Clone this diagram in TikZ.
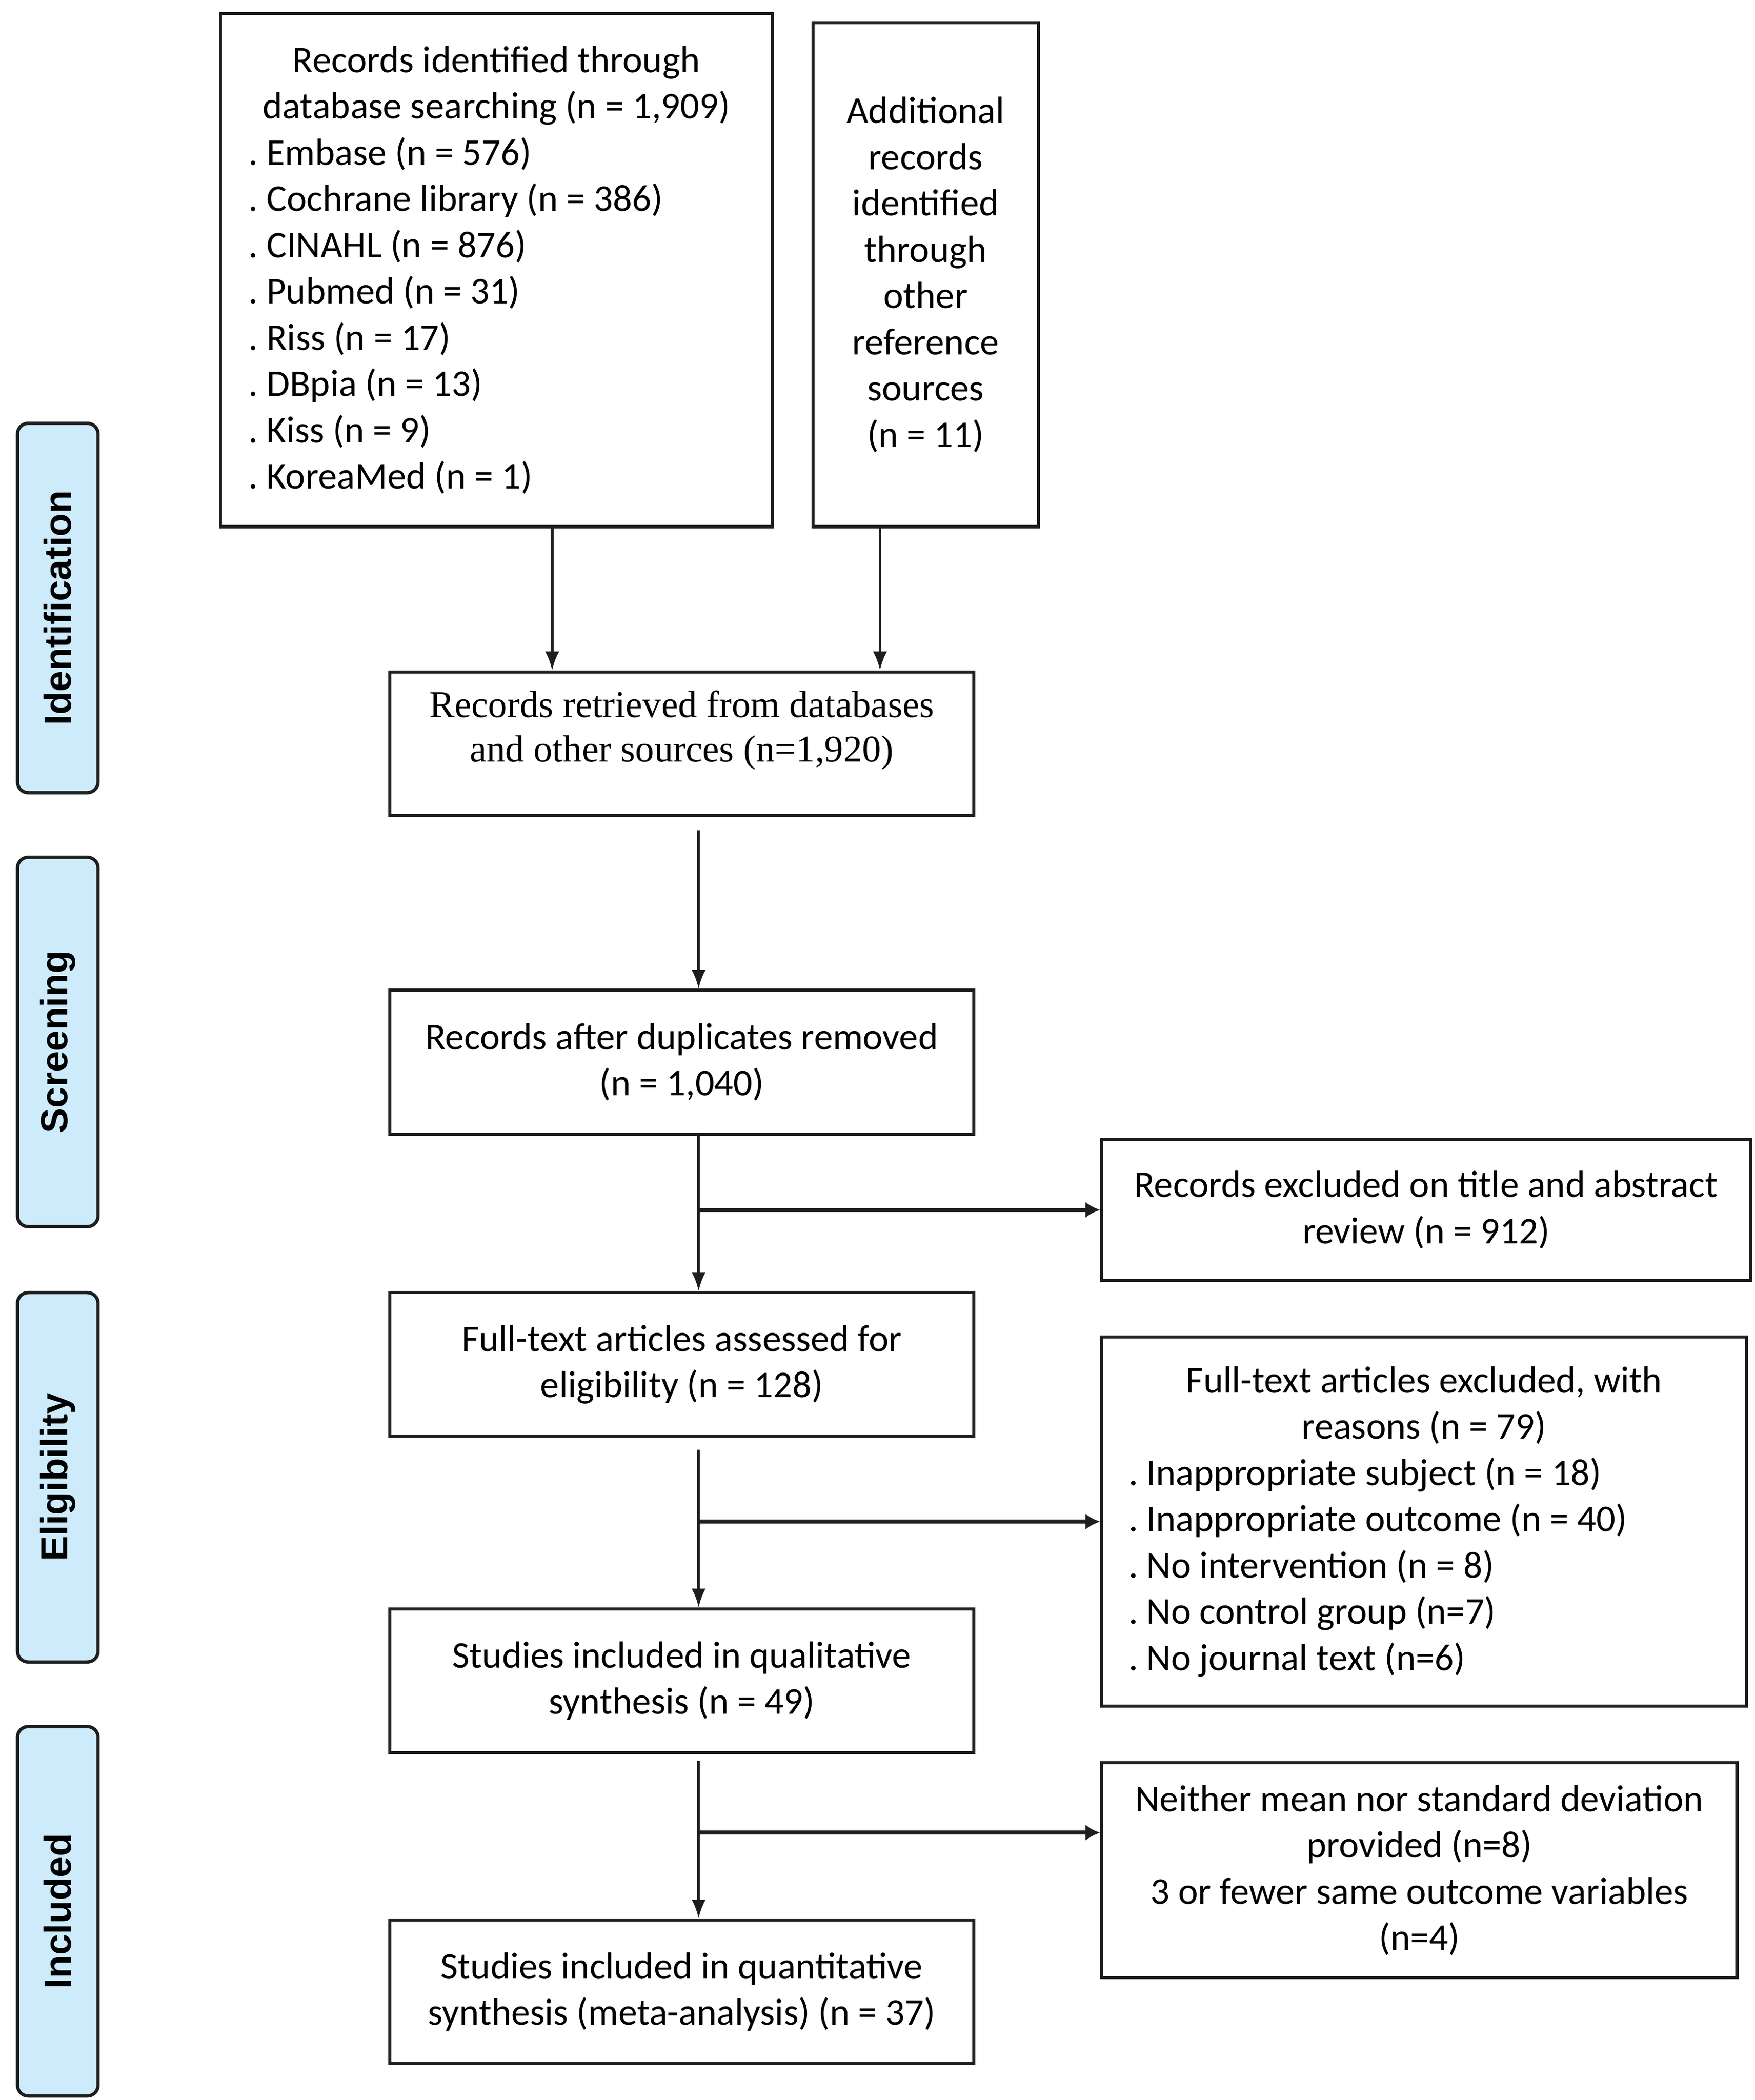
\documentclass[tikz,border=0pt]{standalone}
\usepackage{fontspec}
\setmainfont{Carlito}
\newfontfamily\serifface{Liberation Serif}
\newfontfamily\barface{Liberation Sans}
\usetikzlibrary{arrows.meta}
\definecolor{barblue}{RGB}{205,235,251}
\definecolor{edge}{RGB}{30,30,30}
\frenchspacing
\begin{document}
\begin{tikzpicture}[x=0.02cm,y=-0.02cm,
  box/.style={draw=edge,line width=1.3pt,inner sep=0pt,fill=white,
    font=\fontsize{16}{19.6}\selectfont},
  midbox/.style={box,minimum width=8.7cm,minimum height=2.14cm,align=center},
  bar/.style={draw=edge,line width=1.4pt,fill=barblue,rounded corners=0.16cm,
    rotate=90,minimum width=5.5cm,minimum height=1.2cm,inner sep=0pt,
    font=\barface\bfseries\fontsize{16}{19}\selectfont},
  varr/.style={draw=edge,line width=1.1pt,-{Latex[length=2.8mm,width=2.1mm]}},
  harr/.style={draw=edge,line width=1.8pt,-{Latex[length=2.2mm,width=2.4mm]}}]
\useasboundingbox (0,0) rectangle (1306,1563);
% phase bars
\node[bar] (bid) at (43,452.5) {Identification};
\node[bar] (bsc) at (43,775.5) {Screening};
\node[bar] (bel) at (43,1099.5) {Eligibility};
\node[bar] (bin) at (43,1422.5) {Included};
% identification boxes
\node[box,minimum width=8.22cm,minimum height=7.64cm,align=left] (db) at (369.5,201)
 {\makebox[7.38cm]{Records identified through}\\
  \makebox[7.38cm]{database searching (n = 1,909)}\\
  . Embase (n = 576)\\
  . Cochrane library (n = 386)\\
  . CINAHL (n = 876)\\
  . Pubmed (n = 31)\\
  . Riss (n = 17)\\
  . DBpia (n = 13)\\
  . Kiss (n = 9)\\
  . KoreaMed (n = 1)};
\node[box,minimum width=3.36cm,minimum height=7.5cm,align=center] (add) at (689,204.5)
 {Additional\\records\\identified\\through\\other\\reference\\sources\\(n = 11)};
\node[midbox] (ret) at (507.5,553.5) {};
\node[font=\serifface\fontsize{16}{18.8}\selectfont,align=center,inner sep=0pt] (rettext) at (507.5,543.5)
 {Records retrieved from databases\\and other sources (n=1,920)};
\node[midbox] (dup) at (507.5,790.5) {Records after duplicates removed\\(n = 1,040)};
\node[midbox] (ass) at (507.5,1015.5) {Full-text articles assessed for\\eligibility (n = 128)};
\node[midbox] (qual) at (507.5,1251) {Studies included in qualitative\\synthesis (n = 49)};
\node[midbox] (quant) at (507.5,1482.5) {Studies included in quantitative\\synthesis (meta-analysis) (n = 37)};
% exclusion boxes
\node[box,minimum width=9.66cm,minimum height=2.1cm,align=center] (ex1) at (1061.5,900.5)
 {Records excluded on title and abstract\\review (n = 912)};
\node[box,minimum width=9.6cm,minimum height=5.5cm,align=left] (ex2) at (1060,1132.5)
 {\makebox[8.8cm]{Full-text articles excluded, with}\\
  \makebox[8.8cm]{reasons (n = 79)}\\
  . Inappropriate subject (n = 18)\\
  . Inappropriate outcome (n = 40)\\
  . No intervention (n = 8)\\
  . No control group (n=7)\\
  . No journal text (n=6)};
\node[box,minimum width=9.46cm,minimum height=3.2cm,align=center] (ex3) at (1056.5,1392)
 {Neither mean nor standard deviation\\provided (n=8)\\3 or fewer same outcome variables\\(n=4)};
% connectors
\coordinate (c1) at (411,0);
\coordinate (c2) at (655,0);
\coordinate (sp) at (520,0);
\coordinate (b3) at (520,1364);
\draw[varr] (db.south -| c1) -- (ret.north -| c1);
\draw[varr] (add.south -| c2) -- (ret.north -| c2);
\draw[varr,shorten <=0.2cm] (ret.south -| sp) -- (dup.north -| sp);
\draw[varr] (dup.south -| sp) -- (ass.north -| sp);
\draw[harr] (ex1.west -| sp) -- (ex1.west);
\draw[varr,shorten <=0.18cm] (ass.south -| sp) -- (qual.north -| sp);
\draw[harr] (ex2.west -| sp) -- (ex2.west);
\draw[varr,shorten <=0.1cm] (qual.south -| sp) -- (quant.north -| sp);
\draw[harr] (b3) -- (b3 -| ex3.west);
\end{tikzpicture}
\end{document}
